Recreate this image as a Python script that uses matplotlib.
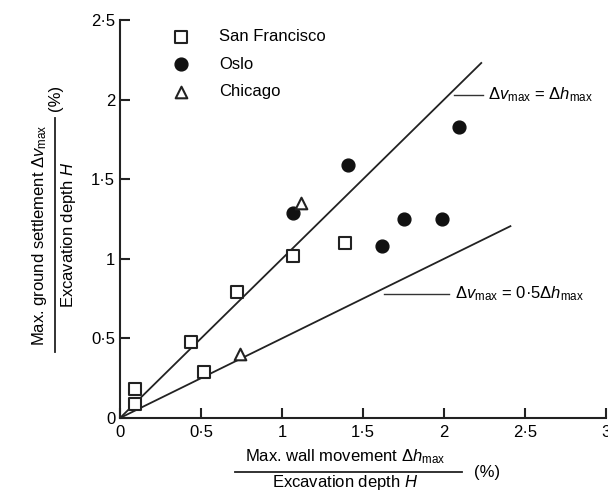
import matplotlib.pyplot as plt
from matplotlib.lines import Line2D

plt.rcParams['font.family'] = ['Liberation Sans', 'DejaVu Sans']
plt.rcParams['mathtext.fontset'] = 'custom'
plt.rcParams['mathtext.rm'] = 'Liberation Sans'
plt.rcParams['mathtext.it'] = 'Liberation Sans:italic'

# data
sf_x = [0.09, 0.09, 0.44, 0.52, 0.72, 1.07, 1.39]
sf_y = [0.18, 0.09, 0.48, 0.29, 0.79, 1.02, 1.10]
oslo_x = [1.07, 1.41, 1.62, 1.75, 1.99, 2.09]
oslo_y = [1.29, 1.59, 1.08, 1.25, 1.25, 1.83]
chi_x = [0.74, 1.12]
chi_y = [0.40, 1.35]
line1_x = [0, 2.23]
line1_k = 1.0
line2_x = [0, 2.41]
line2_k = 0.5
ticks = [0, 0.5, 1, 1.5, 2, 2.5, 3]
tick_labels = ['0', '0·5', '1', '1·5', '2', '2·5', '3']

fs = 12
fig = plt.figure(figsize=(6.08, 4.91), dpi=100)
ax = fig.add_axes([120/608, 1-418/491, 486/608, 398/491])

ax.plot(line1_x, [line1_k*v for v in line1_x], color='#222222', lw=1.3)
ax.plot(line2_x, [line2_k*v for v in line2_x], color='#222222', lw=1.3)

ax.scatter(sf_x, sf_y, marker='s', s=85, facecolors='white', edgecolors='#222222',
           linewidths=1.5, zorder=3, label='San Francisco')
ax.scatter(oslo_x, oslo_y, marker='o', s=85, color='#111111', zorder=3, label='Oslo')
ax.scatter(chi_x, chi_y, marker='^', s=70, facecolors='white', edgecolors='#222222',
           linewidths=1.5, zorder=3, label='Chicago')

# line labels with leader lines
ax.plot([2.06, 2.24], [2.03, 2.03], color='#333333', lw=1)
ax.text(2.27, 2.03, r'$\Delta v_{\rm max}$ = $\Delta h_{\rm max}$', fontsize=fs,
        va='center', ha='left')
ax.plot([1.63, 2.03], [0.78, 0.78], color='#333333', lw=1)
ax.text(2.07, 0.78, r'$\Delta v_{\rm max}$ = 0·5$\Delta h_{\rm max}$', fontsize=fs,
        va='center', ha='left')

ax.set_xlim(0, 3)
ax.set_ylim(0, 2.5)
ax.set_xticks(ticks)
ax.set_xticklabels(tick_labels)
ax.set_yticks(ticks[:-1])
ax.set_yticklabels(tick_labels[:-1])
ax.tick_params(direction='in', length=7, width=1.5, labelsize=fs, color='#222222')
ax.tick_params(axis='x', pad=5)
for side in ['top', 'right']:
    ax.spines[side].set_visible(False)
for side in ['left', 'bottom']:
    ax.spines[side].set_linewidth(1.5)
    ax.spines[side].set_color('#222222')

ax.legend(loc='upper left', bbox_to_anchor=(0.06, 1.015), frameon=False, fontsize=fs,
          handletextpad=1.3, labelspacing=0.75, scatterpoints=1)

# x label as a fraction
fig.text(345/608, 1-457/491, r'Max. wall movement $\Delta h_{\rm max}$', ha='center',
         va='center', fontsize=fs)
fig.add_artist(Line2D([235/608, 462/608], [1-472/491, 1-472/491], color='#222222', lw=1.3))
fig.text(345/608, 1-482/491, r'Excavation depth $H$', ha='center', va='center', fontsize=fs)
fig.text(474/608, 1-472/491, '(%)', ha='left', va='center', fontsize=fs)

# y label as a fraction
fig.text(40/608, 1-235/491, r'Max. ground settlement $\Delta v_{\rm max}$', ha='center',
         va='center', rotation=90, fontsize=fs)
fig.add_artist(Line2D([55/608, 55/608], [1-352/491, 1-118/491], color='#222222', lw=1.3))
fig.text(69/608, 1-235/491, r'Excavation depth $H$', ha='center', va='center',
         rotation=90, fontsize=fs)
fig.text(55/608, 1-98/491, '(%)', ha='center', va='center', rotation=90, fontsize=fs)

plt.savefig('out.png', dpi=100)
